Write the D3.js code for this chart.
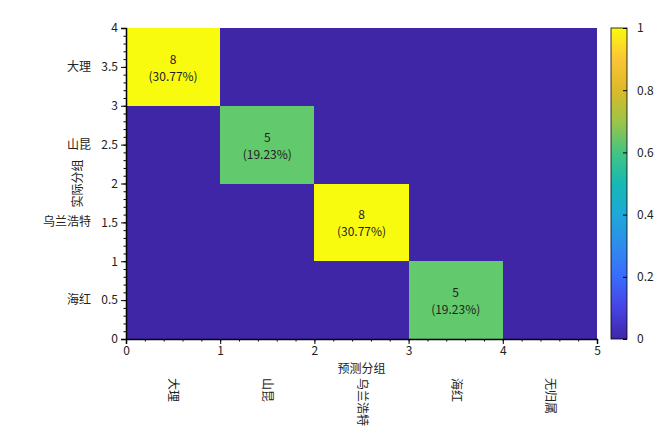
<!DOCTYPE html>
<html><head><meta charset="utf-8">
<script src="https://cdn.jsdelivr.net/npm/d3@7"></script>
<style>body{margin:0;background:#fff}svg{display:block}text{font-family:"Noto Sans CJK SC","Noto Sans",sans-serif;fill:#222}</style>
</head><body>
<script>
const predicted = ["大理","山昆","乌兰浩特","海红","无归属"];
const actual = ["大理","山昆","乌兰浩特","海红"];
// counts[actualIndex][predictedIndex]
const counts = [
  [8,0,0,0,0],
  [0,5,0,0,0],
  [0,0,8,0,0],
  [0,0,0,5,0]
];
const total = 26;
const yTicks = [0,0.5,1,1.5,2,2.5,3,3.5,4];
const xTicks = [0,1,2,3,4,5];
const cbTicks = [0,0.2,0.4,0.6,0.8,1];

const W=660,H=436;
const L=126,R=597,T=28,B=339;
const svg=d3.select("body").append("svg").attr("width",W).attr("height",H);
const x=d3.scaleLinear().domain([0,5]).range([L,R]);
const y=d3.scaleLinear().domain([0,4]).range([B,T]);
const maxV=d3.max(counts.flat());
const parula=["#3e26a8","#4743e4","#3a6bfd","#2e8cec","#1ea8d8","#16b9b3","#45c482","#9dc448","#dbba29","#fcc436","#f9fb0e"];
const cellColor=v=>{const t=v/maxV; if(t===0) return "#3f26a6"; if(t===1) return "#f9fb0e"; return "#62c96c";};

const cells=[];
counts.forEach((row,r)=>row.forEach((v,c)=>cells.push({r,c,v})));
const rowY=r=>actual.length-1-r; // 大理 at top
svg.append("g").attr("shape-rendering","crispEdges").selectAll("rect").data(cells).join("rect")
  .attr("x",d=>x(d.c)).attr("y",d=>y(rowY(d.r)+1))
  .attr("width",d=>x(d.c+1)-x(d.c)).attr("height",d=>y(rowY(d.r))-y(rowY(d.r)+1))
  .attr("fill",d=>cellColor(d.v));
const lab=svg.append("g").selectAll("g").data(cells.filter(d=>d.v>0)).join("g")
  .attr("transform",d=>`translate(${x(d.c+0.5)},${y(rowY(d.r)+0.5)})`);
lab.append("text").attr("text-anchor","middle").attr("y",-3).attr("font-size",12).text(d=>d.v);
lab.append("text").attr("text-anchor","middle").attr("y",14).attr("font-size",12).text(d=>`(${(d.v/total*100).toFixed(2)}%)`);

// axes
const ax=svg.append("g");
const yAxis=d3.axisLeft(y).tickValues(yTicks).tickSize(5).tickPadding(3).tickFormat(d3.format("~g"));
const yMinor=d3.axisLeft(y).tickValues(d3.range(0,41).map(i=>i/10)).tickSize(2.5).tickFormat("");
ax.append("g").attr("transform",`translate(${L},0)`).call(yAxis);
ax.append("g").attr("transform",`translate(${L},0)`).call(yMinor).select(".domain").remove();
const xAxis=d3.axisBottom(x).tickValues(xTicks).tickSize(5).tickPadding(2).tickFormat(d3.format("d"));
const xMinor=d3.axisBottom(x).tickValues(d3.range(0,26).map(i=>i/5)).tickSize(2.5).tickFormat("");
ax.append("g").attr("transform",`translate(0,${B})`).call(xAxis);
ax.append("g").attr("transform",`translate(0,${B})`).call(xMinor).select(".domain").remove();
ax.selectAll(".domain").attr("stroke","#000").attr("stroke-width",1.5);
ax.selectAll(".tick line").attr("stroke","#000");
ax.selectAll(".tick text").attr("font-size",12).attr("fill","#222");

// row labels
svg.append("g").selectAll("text").data(actual).join("text")
  .attr("x",91).attr("y",(d,i)=>y(rowY(i)+0.5)+4).attr("text-anchor","end").attr("font-size",12).text(d=>d);
// column labels rotated
svg.append("g").selectAll("text").data(predicted).join("text")
  .attr("transform",(d,i)=>`translate(${x(i+0.5)-4},378) rotate(90)`).attr("font-size",12).text(d=>d);
// titles
svg.append("text").attr("x",x(2.5)).attr("y",373).attr("text-anchor","middle").attr("font-size",12).text("预测分组");
svg.append("text").attr("transform",`translate(82,${(T+B)/2}) rotate(-90)`).attr("text-anchor","middle").attr("font-size",12).text("实际分组");

// colorbar
const cbX=611,cbW=16;
const defs=svg.append("defs");
const grad=defs.append("linearGradient").attr("id","cb").attr("x1",0).attr("x2",0).attr("y1",1).attr("y2",0);
parula.forEach((c,i)=>grad.append("stop").attr("offset",i/(parula.length-1)).attr("stop-color",c));
svg.append("rect").attr("x",cbX).attr("y",T).attr("width",cbW).attr("height",B-T).attr("fill","url(#cb)").attr("stroke","#000").attr("stroke-width",0.8);
const cy=d3.scaleLinear().domain([0,1]).range([B,T]);
const cbAxis=d3.axisRight(cy).tickValues(cbTicks).tickSize(-4).tickPadding(10).tickFormat(d3.format("~g"));
const gc=svg.append("g").attr("transform",`translate(${cbX+cbW},0)`).call(cbAxis);
gc.select(".domain").remove();
gc.selectAll(".tick line").attr("stroke","#000");
gc.selectAll(".tick text").attr("font-size",12).attr("fill","#222");
</script>
</body></html>
